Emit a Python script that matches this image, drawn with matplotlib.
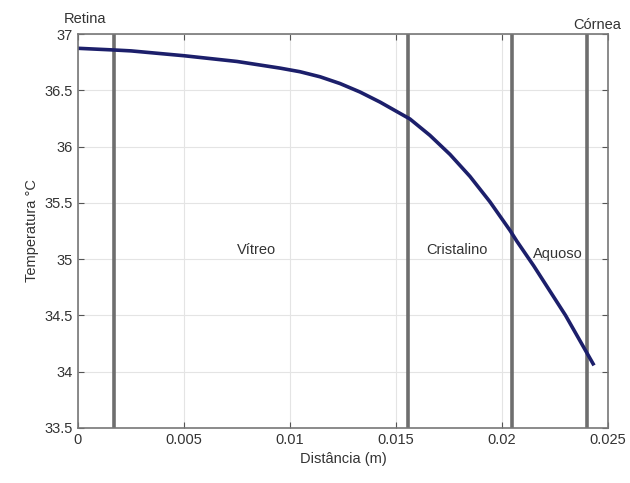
import numpy as np
import matplotlib.pyplot as plt

plt.rcParams['font.family'] = ['Liberation Sans', 'DejaVu Sans']

# temperature profile
dist = [0.0, 0.0017, 0.0025, 0.005, 0.0075, 0.00953, 0.01047, 0.01142,
        0.01236, 0.0133, 0.01425, 0.01519, 0.01566, 0.0166, 0.01755,
        0.01849, 0.01943, 0.02038, 0.0207, 0.0215, 0.0230, 0.0243]
temp = [36.873, 36.858, 36.85, 36.807, 36.756, 36.697, 36.665, 36.62,
        36.56, 36.485, 36.395, 36.295, 36.245, 36.10, 35.93,
        35.735, 35.51, 35.255, 35.16, 34.94, 34.50, 34.07]

# layer boundaries
bounds = [0.0017, 0.01557, 0.02047, 0.0240]
regions = ['Vítreo', 'Cristalino', 'Aquoso']
region_x = [0.00844, 0.01788, 0.02264]
region_y = [35.08, 35.08, 35.05]

fig = plt.figure(figsize=(6.3, 4.83), dpi=100)
ax = fig.add_axes([0.1238, 0.1139, 0.8412, 0.8157])

ax.grid(True, color='#e4e4e4', linewidth=0.8)
ax.set_axisbelow(True)

for b in bounds:
    ax.axvline(b, color='#6e6e6e', linewidth=2.6)

ax.plot(dist, temp, color='#1c1f6b', linewidth=2.6, solid_joinstyle='round')

for name, xx, yy in zip(regions, region_x, region_y):
    ax.text(xx, yy, name, ha='center', va='center', fontsize=10.5, color='#333333')

ax.text(0.00033, 37.07, 'Retina', ha='center', va='bottom', fontsize=10.5,
        color='#333333', clip_on=False)
ax.text(0.0245, 37.02, 'Córnea', ha='center', va='bottom', fontsize=10.5,
        color='#333333', clip_on=False)

ax.set_xlim(0, 0.025)
ax.set_ylim(33.5, 37)
ax.set_xticks([0, 0.005, 0.01, 0.015, 0.02, 0.025])
ax.set_xticklabels(['0', '0.005', '0.01', '0.015', '0.02', '0.025'])
ax.set_yticks(np.arange(33.5, 37.01, 0.5))
ax.set_yticklabels(['33.5', '34', '34.5', '35', '35.5', '36', '36.5', '37'])
ax.tick_params(direction='in', top=True, right=True, colors='#555555',
               labelcolor='#333333', labelsize=10.5, length=4)
for s in ax.spines.values():
    s.set_color('#777777')
    s.set_linewidth(1.2)

ax.set_xlabel('Distância (m)', fontsize=10.5, color='#333333')
ax.set_ylabel('Temperatura °C', fontsize=10.5, color='#333333')

fig.savefig('out.png', dpi=100)
